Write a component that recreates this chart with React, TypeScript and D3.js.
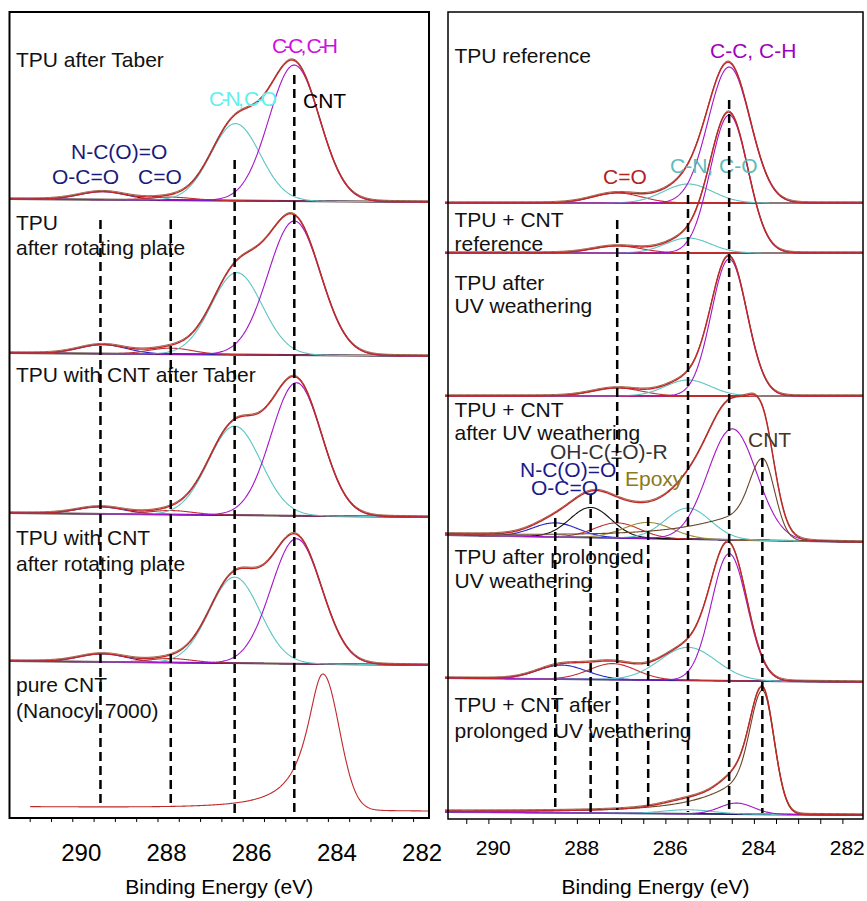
import React from 'react'
import * as d3 from 'd3'

// a fitted peak: [kind, centre (eV), height (a.u.), FWHM (eV), tail fraction, tail FWHM (eV)]
type Peak = [string, number, number, number, number?, number?]

// left column, C 1s fits
const tpuTaber: Peak[] = [['ester', 289.5, 8, 1.3], ['carbonyl', 287.9, 3, 1.2], ['cn', 286.38, 77, 1.36], ['cc', 285.0, 136, 1.4]]
const tpuRotating: Peak[] = [['ester', 289.5, 9, 1.3], ['carbonyl', 287.9, 6, 1.2], ['cn', 286.35, 82, 1.4], ['cc', 285.0, 134, 1.45]]
const cntTaber: Peak[] = [['ester', 289.55, 7, 1.3], ['carbonyl', 287.9, 4, 1.2], ['cn', 286.4, 89, 1.45], ['cc', 284.95, 133, 1.4]]
const cntRotating: Peak[] = [['ester', 289.5, 8, 1.3], ['carbonyl', 287.9, 4, 1.2], ['cn', 286.4, 86, 1.4], ['cc', 284.95, 125, 1.4]]
const pureCnt: Peak[] = [['cnt', 284.33, 136, 0.9, 1, 0.9]]

// right column, C 1s fits
const tpuRef: Peak[] = [['carbonyl', 287.2, 10, 1.3], ['cn', 285.6, 19, 1.3], ['cc', 284.67, 136, 1.12]]
const cntRef: Peak[] = [['carbonyl', 287.2, 7, 1.3], ['cn', 285.6, 15, 1.2], ['cc', 284.67, 138, 1.0]]
const tpuUv: Peak[] = [['carbonyl', 287.2, 8, 1.3], ['cn', 285.6, 16, 1.2], ['cc', 284.67, 137, 0.95]]
const cntUv: Peak[] = [['ester', 288.6, 14, 1.2], ['acid', 287.8, 30, 1.1], ['carbonyl', 287.2, 15, 1.2], ['epoxy', 286.5, 16, 1.3],
  ['cn', 285.6, 31, 1.2], ['cc', 284.6, 111, 1.3], ['cnt', 283.92, 82, 0.65, 0.35, 3]]
const tpuUvLong: Peak[] = [['ester', 288.45, 14, 1.3], ['carbonyl', 287.3, 16, 1.25], ['cn', 285.6, 33, 1.5], ['cc', 284.67, 127, 0.95]]
const cntUvLong: Peak[] = [['cn', 285.6, 4, 1.3], ['cc', 284.5, 11, 0.9], ['cnt', 283.92, 124, 0.62, 0.33, 2.2]]

// dashed guides (eV)
const leftGuides = [289.55, 287.9, 286.4, 285.0]
const rightGuides = [288.6, 287.8, 287.2, 286.5, 285.6, 284.67, 283.92]
const tickLabels = [290, 288, 286, 284, 282]

const kindColor: Record<string, string> = {
  ester: '#2424c8', carbonyl: '#c03030', cn: '#5ec4c4', cc: '#a414c8',
  cnt: '#6b4526', acid: '#111111', epoxy: '#9c8c30'
}

const font = 'Liberation Sans, Arial, sans-serif'

function shape(p: Peak, e: number) {
  const [, c, h, w, a = 0, wt = 1] = p
  const d = e - c
  const g = Math.exp(-4 * Math.LN2 * d * d / (w * w))
  if (d <= 0 || !a) return h * g
  const l = 1 / (1 + 4 * d * d / (wt * wt))
  return h * ((1 - a) * g + a * l)
}

const counts = d3.scaleLinear().domain([0, 100]).range([0, 100])

type Strip = {
  peaks: Peak[], y0: number, y1: number, lines: string[], ly: number[],
  bare?: boolean, from?: number, bg: string
}

const leftStrips: Strip[] = [
  { peaks: tpuTaber, y0: 199, y1: 202, lines: ['TPU after Taber'], ly: [67], bg: '#3a1c1c' },
  { peaks: tpuRotating, y0: 353, y1: 356, lines: ['TPU', 'after rotating plate'], ly: [230, 255], bg: '#3a1c1c' },
  { peaks: cntTaber, y0: 513, y1: 517, lines: ['TPU with CNT after Taber'], ly: [382], bg: '#3a1c1c' },
  { peaks: cntRotating, y0: 661, y1: 665, lines: ['TPU with CNT', 'after rotating plate'], ly: [545, 571], bg: '#3a1c1c' },
  { peaks: pureCnt, y0: 807, y1: 811, lines: ['pure CNT', '(Nanocyl 7000)'], ly: [692, 718], bare: true, from: 291.2, bg: 'none' },
]

const rightStrips: Strip[] = [
  { peaks: tpuRef, y0: 203, y1: 203, lines: ['TPU reference'], ly: [63], bg: '#c0282a' },
  { peaks: cntRef, y0: 253, y1: 253, lines: ['TPU + CNT', 'reference'], ly: [227, 251], bg: '#c0282a' },
  { peaks: tpuUv, y0: 396, y1: 396, lines: ['TPU after', 'UV weathering'], ly: [290, 313], bg: '#c0282a' },
  { peaks: cntUv, y0: 535, y1: 542, lines: ['TPU + CNT', 'after UV weathering'], ly: [417, 440], bg: '#1c1c60' },
  { peaks: tpuUvLong, y0: 678, y1: 682, lines: ['TPU after prolonged', 'UV weathering'], ly: [564, 588], bg: '#1c1c60' },
  { peaks: cntUvLong, y0: 812, y1: 815, lines: ['TPU + CNT after', 'prolonged UV weathering'], ly: [712, 738], bg: '#1c1c60' },
]

type Note = { text: string, x: number, y: number, fill: string, len?: number }

const leftNotes: Note[] = [
  { text: 'C-C, C-H', x: 272, y: 53, fill: '#d010e0', len: 66 },
  { text: 'C-N, C-O', x: 209, y: 106, fill: '#5ff0f0', len: 68 },
  { text: 'CNT', x: 303, y: 108, fill: '#000' },
  { text: 'N-C(O)=O', x: 71, y: 159, fill: '#1a1a7a' },
  { text: 'O-C=O', x: 52, y: 184, fill: '#1a1a7a' },
  { text: 'C=O', x: 138, y: 184, fill: '#1a1a7a' },
]

const rightNotes: Note[] = [
  { text: 'C-C, C-H', x: 710, y: 58, fill: '#a000c0' },
  { text: 'C-N, C-O', x: 670, y: 173, fill: '#5cbcbc' },
  { text: 'C=O', x: 603, y: 184, fill: '#b22222' },
  { text: 'OH-C(±O)-R', x: 550, y: 459, fill: '#333' },
  { text: 'N-C(O)=O', x: 520, y: 477, fill: '#1a1a8a' },
  { text: 'O-C=O', x: 531, y: 495, fill: '#1a1a8a' },
  { text: 'Epoxy', x: 625, y: 486, fill: '#8a7a20' },
  { text: 'CNT', x: 748, y: 447, fill: '#4a3420' },
]

type PanelProps = {
  x: d3.ScaleLinear<number, number>, left: number, right: number, top: number, bottom: number,
  strips: Strip[], notes: Note[], guides: number[], guideTop: number[], guideBottom: number[],
  ticks: number[], tickLen: number, tickSize: number, tickY: number, lineStart: number, frameW: number
}

function Panel(props: PanelProps) {
  const { x, left, right, top, bottom, strips, notes, guides, guideTop, guideBottom, ticks } = props
  const eLeft = x.invert(props.lineStart), eRight = x.invert(right)
  return (
    <g>
      {strips.map((s, i) => {
        const start = s.from ?? eLeft
        const energies = d3.range(start, eRight, -0.02).concat([eRight])
        const base = d3.scaleLinear().domain([eLeft, eRight]).range([s.y0, s.y1])
        const total = (e: number) => d3.sum(s.peaks, p => shape(p, e))
        const line = (f: (e: number) => number, dy = 0) =>
          d3.line<number>().x(e => x(e)).y(e => base(e) - counts(f(e)) + dy)(energies) || ''
        return (
          <g key={i}>
            {s.lines.map((t, j) => (
              <text key={j} x={left + 6.5} y={s.ly[j]} fontSize={21} fontFamily={font} fill="#111">{t}</text>
            ))}
            {s.bg !== 'none' && (
              <line x1={x(eLeft)} x2={x(eRight)} y1={s.y0} y2={s.y1} stroke={s.bg} strokeWidth={1.8} />
            )}
            {!s.bare && s.peaks.map((p, j) => (
              <path key={j} d={line(e => shape(p, e))} fill="none" stroke={kindColor[p[0]]} strokeWidth={1.1} />
            ))}
            {!s.bare && <path d={line(total, -1.2)} fill="none" stroke="#8a4a28" strokeWidth={1} />}
            <path d={line(total)} fill="none" stroke="#c0282a" strokeWidth={s.bare ? 1.1 : 1.4} />
          </g>
        )
      })}
      {notes.map((n, i) => (
        <text key={i} x={n.x} y={n.y} fontSize={21} fontFamily={font} fill={n.fill}
          textLength={n.len} lengthAdjust={n.len ? 'spacing' : undefined}>{n.text}</text>
      ))}
      {guides.map((g, i) => (
        <line key={i} x1={x(g)} x2={x(g)} y1={guideTop[i]} y2={guideBottom[i]}
          stroke="#000" strokeWidth={2.5} strokeDasharray="9 5" />
      ))}
      <rect x={left} y={top} width={right - left} height={bottom - top} fill="none" stroke="#000" strokeWidth={props.frameW} />
      {ticks.map((t, i) => (
        <line key={i} x1={x(t)} x2={x(t)} y1={bottom} y2={bottom + props.tickLen} stroke="#000" strokeWidth={1} />
      ))}
      {tickLabels.map(t => (
        <text key={t} x={x(t)} y={props.tickY} textAnchor="middle" fontSize={props.tickSize} fontFamily={font} fill="#000">{t}</text>
      ))}
      <text x={(left + right) / 2} y={894} textAnchor="middle" fontSize={21} fontFamily={font} fill="#000">Binding Energy (eV)</text>
    </g>
  )
}

export default function App() {
  const xL = d3.scaleLinear().domain([290, 282]).range([81.3, 422.1])
  const xR = d3.scaleLinear().domain([290, 282]).range([493.3, 847.3])
  const ticksL = d3.range(291.2, 282.1, -0.5)
  const ticksR = d3.range(290.6, 282.0, -0.5)
  return (
    <svg width={867} height={901} style={{ position: 'absolute', left: 0, top: 0, background: '#fff' }}>
      <Panel x={xL} left={9.5} right={429} top={12} bottom={818} strips={leftStrips} notes={leftNotes}
        guides={leftGuides} guideTop={[220, 220, 160, 75]} guideBottom={[808, 808, 813, 813]}
        ticks={ticksL} tickLen={4} tickSize={24} tickY={861} lineStart={9.5} frameW={2} />
      <Panel x={xR} left={448} right={863} top={12} bottom={819} strips={rightStrips} notes={rightNotes}
        guides={rightGuides} guideTop={[518, 495, 220, 517, 195, 100, 458]} guideBottom={[808, 815, 810, 808, 812, 813, 813]}
        ticks={ticksR} tickLen={5} tickSize={21} tickY={855} lineStart={445} frameW={1.5} />
    </svg>
  )
}
